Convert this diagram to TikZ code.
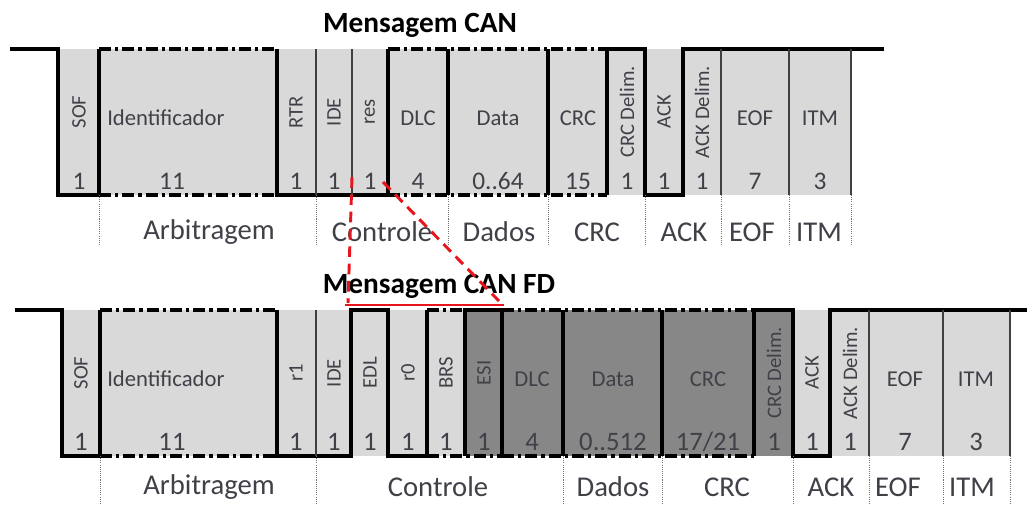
\documentclass[tikz,border=0pt]{standalone}
\usepackage{fontspec}
\setmainfont{Carlito}
\usepackage{tikz}
\usetikzlibrary{calc}
\definecolor{lgray}{HTML}{D9D9D9}
\definecolor{dgray}{HTML}{878787}
\definecolor{txt}{HTML}{404048}
\definecolor{zoomred}{HTML}{E8141B}

\tikzset{
  sig/.style={line width=2.6pt, black},
  dd/.style={sig, dash pattern=on 9pt off 3pt on 2.5pt off 3pt},
  sep/.style={line width=1.1pt, black!75},
  guide/.style={line width=0.7pt, black!55, dash pattern=on 0.8pt off 0.8pt},
  fieldtxt/.style={font=\fontsize{17}{17}\selectfont, text=txt, inner sep=0pt},
  vtxt/.style={font=\fontsize{15.5}{15.5}\selectfont, text=txt, inner sep=0pt, rotate=90},
  bitnum/.style={font=\fontsize{19}{19}\selectfont, text=txt, inner sep=0pt},
  bitnumfd/.style={font=\fontsize{20}{20}\selectfont, text=txt, inner sep=0pt},
  grouplbl/.style={font=\fontsize{21.5}{21.5}\selectfont, text=txt, inner sep=0pt},
  frametitle/.style={font=\bfseries\fontsize{22}{22}\selectfont, inner sep=0pt},
  zoomln/.style={zoomred, line width=2.2pt}
}

\begin{document}
\begin{tikzpicture}[x=0.75pt, y=-0.75pt]
  \useasboundingbox (0,0) rectangle (1027,504);

  % Mensagem CAN
  \node[frametitle] (titleA) at (420,25) {Mensagem CAN};
  \fill[lgray] (58,49) rectangle (851,195);
  \draw[sig] (10,49) -- (58,49) -- (58,195) -- (99,195) -- (99,49);
  \draw[dd] (99,49) -- (277,49);
  \draw[dd] (99,195) -- (277,195);
  \draw[sig] (277,49) -- (277,195) -- (388,195) -- (388,49);
  \draw[dd] (388,49) -- (607,49);
  \draw[dd] (388,195) -- (607,195);
  \draw[sig] (448,49) -- (448,195);
  \draw[sig] (548,49) -- (548,195);
  \draw[sig] (607,195) -- (607,49) -- (645,49) -- (645,195) -- (683,195) -- (683,49) -- (884,49);
  \foreach \x in {316,352,721,789,851}
    \draw[sep] (\x,49) -- (\x,195);
  \foreach \x in {99,316,448,548,645,721,789,851}
    \draw[guide] (\x,195) -- (\x,245);

  \node[vtxt] (sofA) at (79,112) {SOF};
  \node[fieldtxt, anchor=west] (idA) at (107,118) {Identificador};
  \node[vtxt] (rtrA) at (296,112) {RTR};
  \node[vtxt] (ideA) at (334,112) {IDE};
  \node[vtxt] (resA) at (370,112) {res};
  \node[fieldtxt] (dlcA) at (418,118) {DLC};
  \node[fieldtxt] (dataA) at (498,118) {Data};
  \node[fieldtxt] (crcA) at (578,118) {CRC};
  \node[vtxt] (crcdA) at (627,112) {CRC Delim.};
  \node[vtxt] (ackA) at (664,112) {ACK};
  \node[vtxt] (ackdA) at (702,112) {ACK Delim.};
  \node[fieldtxt] (eofA) at (755,118) {EOF};
  \node[fieldtxt] (itmA) at (820,118) {ITM};

  \foreach \x/\n/\nm in {79/1/sof, 172/11/id, 296/1/rtr, 334/1/ide, 370/1/res,
      418/4/dlc, 498/0..64/data, 578/15/crc, 627/1/crcd, 664/1/ack,
      702/1/ackd, 755/7/eof, 820/3/itm}
    \node[bitnum] (n\nm A) at (\x,181) {\n};

  \node[grouplbl] (arbA) at (209,232) {Arbitragem};
  \node[grouplbl] (ctlA) at (382,232) {Controle};
  \node[grouplbl] (dadA) at (499,232) {Dados};
  \node[grouplbl] (crcgA) at (597,232) {CRC};
  \node[grouplbl] (ackgA) at (684,232) {ACK};
  \node[grouplbl] (eofgA) at (752,232) {EOF};
  \node[grouplbl] (itmgA) at (819,232) {ITM};

  % Mensagem CAN FD
  \node[frametitle] (titleB) at (439,286) {Mensagem CAN FD};
  \fill[lgray] (62,310) rectangle (1010,456);
  \fill[dgray] (465,310) rectangle (793,456);
  \draw[sig] (15,310) -- (62,310) -- (62,456) -- (100,456) -- (100,310);
  \draw[dd] (100,310) -- (277,310);
  \draw[dd] (100,456) -- (277,456);
  \draw[sig] (277,310) -- (277,456) -- (351,456) -- (351,310) -- (388,310)
    -- (388,456) -- (427,456) -- (427,310);
  \draw[dd] (427,310) -- (465,310);
  \draw[dd] (427,456) -- (502,456);
  \draw[sig] (465,456) -- (465,310) -- (502,310) -- (502,456);
  \draw[dd] (502,310) -- (754,310);
  \draw[dd] (502,456) -- (754,456);
  \draw[sig] (563,310) -- (563,456);
  \draw[sig] (662,310) -- (662,456);
  \draw[sig] (754,456) -- (754,310) -- (793,310) -- (793,456) -- (830,456) -- (830,310) -- (1027,310);
  \foreach \x in {316,869,943,1010}
    \draw[sep] (\x,310) -- (\x,456);
  \foreach \x in {100,316,563,662,793,869,943,1010}
    \draw[guide] (\x,456) -- (\x,504);

  \node[vtxt] (sofB) at (81,373) {SOF};
  \node[fieldtxt, anchor=west] (idB) at (107,379) {Identificador};
  \node[vtxt] (r1B) at (296,373) {r1};
  \node[vtxt] (ideB) at (334,373) {IDE};
  \node[vtxt] (edlB) at (370,373) {EDL};
  \node[vtxt] (r0B) at (408,373) {r0};
  \node[vtxt] (brsB) at (446,373) {BRS};
  \node[vtxt] (esiB) at (484,373) {ESI};
  \node[fieldtxt] (dlcB) at (532,379) {DLC};
  \node[fieldtxt] (dataB) at (613,379) {Data};
  \node[fieldtxt] (crcB) at (708,379) {CRC};
  \node[vtxt] (crcdB) at (774,373) {CRC Delim.};
  \node[vtxt] (ackB) at (812,373) {ACK};
  \node[vtxt] (ackdB) at (850,373) {ACK Delim.};
  \node[fieldtxt] (eofB) at (905,379) {EOF};
  \node[fieldtxt] (itmB) at (976,379) {ITM};

  \foreach \x/\n/\nm in {81/1/sof, 172/11/id, 296/1/rone, 334/1/ide, 370/1/edl,
      408/1/rzero, 446/1/brs, 484/1/esi, 532/4/dlc, 613/0..512/data,
      708/{17/21}/crc, 774/1/crcd, 812/1/ack, 850/1/ackd, 905/7/eof, 976/3/itm}
    \node[bitnumfd] (n\nm B) at (\x,442) {\n};

  \node[grouplbl] (arbB) at (209,487) {Arbitragem};
  \node[grouplbl] (ctlB) at (438,487) {Controle};
  \node[grouplbl] (dadB) at (613,487) {Dados};
  \node[grouplbl] (crcgB) at (727,487) {CRC};
  \node[grouplbl] (ackgB) at (831,487) {ACK};
  \node[grouplbl] (eofgB) at (898,487) {EOF};
  \node[grouplbl] (itmgB) at (972,487) {ITM};

  % zoom of the res bit
  \coordinate (resL) at (352,177);
  \coordinate (resR) at (383,182);
  \coordinate (fdL) at (345,305);
  \coordinate (fdR) at (504,305);
  \draw[zoomln] (fdL) -- (fdR);
  \draw[zoomln, dash pattern=on 8pt off 5pt] (resL) -- ($(fdL)+(3,-2)$);
  \draw[zoomln, dash pattern=on 8pt off 5pt] (resR) -- ($(fdR)+(-5,-4)$);
\end{tikzpicture}
\end{document}
